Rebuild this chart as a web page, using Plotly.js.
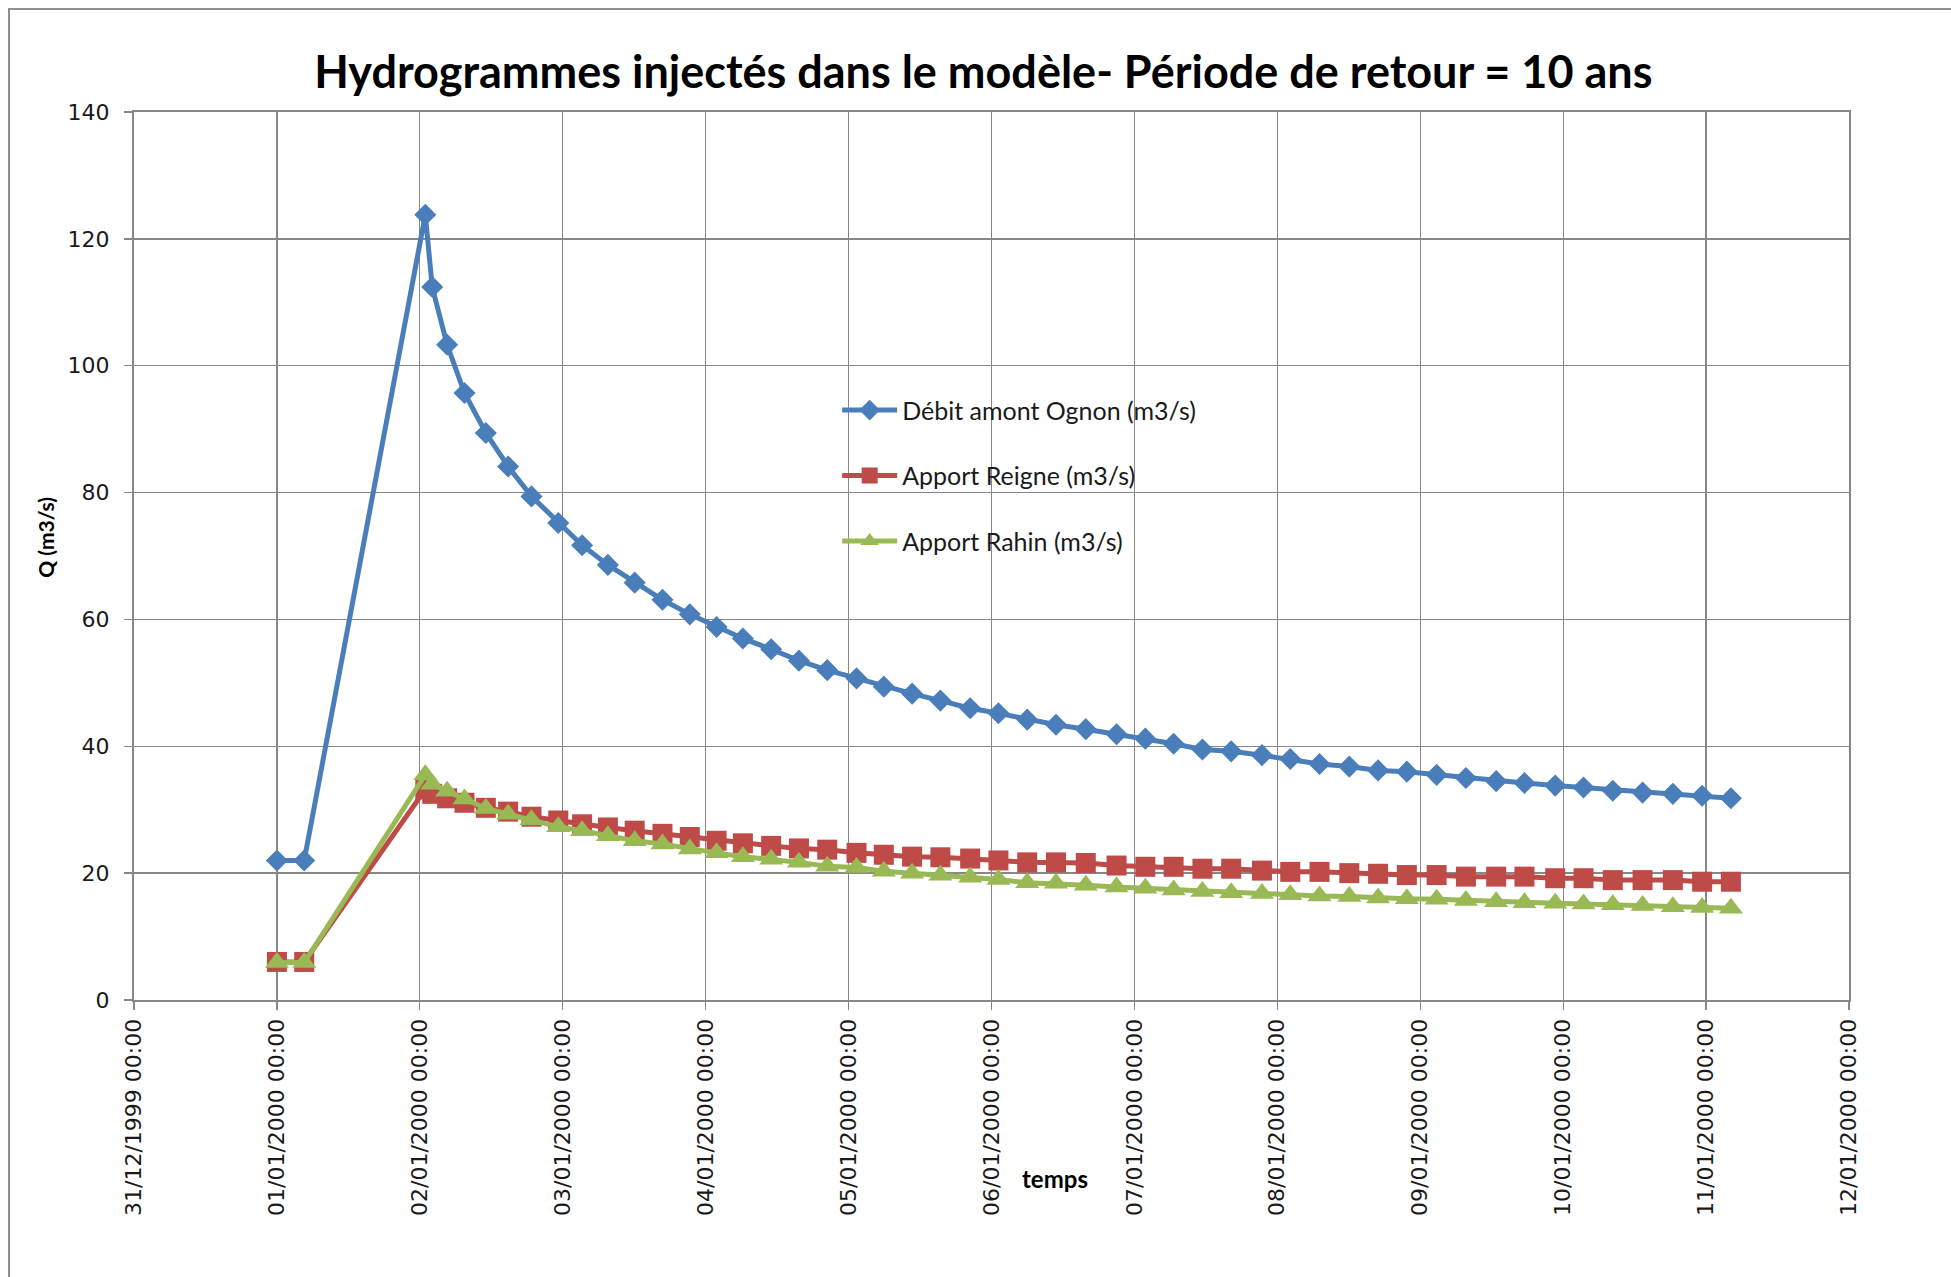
<!DOCTYPE html>
<html>
<head>
<meta charset="utf-8">
<script src="https://cdn.plot.ly/plotly-3.0.1.min.js"></script>
<style>
  html, body { margin: 0; padding: 0; background: #ffffff; }
  #chart { position: absolute; left: 0; top: 0; width: 1951px; height: 1277px; }
  #frame { position: absolute; left: 8px; top: 8px; width: 1960px; height: 1290px;
           border-left: 2px solid #8e8e8e; border-top: 2px solid #8e8e8e; pointer-events: none; }
</style>
</head>
<body>
<div id="chart"></div>
<div id="frame"></div>
<script>
// ---- Data ----
const chartTitle = "Hydrogrammes injectés dans le modèle- Période de retour = 10 ans";
const xAxisTitle = "temps";
const yAxisTitle = "Q (m3/s)";
const seriesNames = ["Débit amont Ognon (m3/s)", "Apport Reigne (m3/s)", "Apport Rahin (m3/s)"];

const times = [
  "2000-01-01 00:00", "2000-01-01 04:35",
  "2000-01-02 00:55", "2000-01-02 02:05", "2000-01-02 04:35", "2000-01-02 07:30",
  "2000-01-02 11:05", "2000-01-02 14:50", "2000-01-02 18:45", "2000-01-02 23:15",
  "2000-01-03 03:15", "2000-01-03 07:35", "2000-01-03 12:05", "2000-01-03 16:45", "2000-01-03 21:20",
  "2000-01-04 01:50", "2000-01-04 06:15", "2000-01-04 11:00", "2000-01-04 15:40", "2000-01-04 20:25",
  "2000-01-05 01:20", "2000-01-05 05:55", "2000-01-05 10:40", "2000-01-05 15:25", "2000-01-05 20:25",
  "2000-01-06 01:10", "2000-01-06 06:00", "2000-01-06 10:50", "2000-01-06 15:50", "2000-01-06 21:00",
  "2000-01-07 01:50", "2000-01-07 06:35", "2000-01-07 11:25", "2000-01-07 16:15", "2000-01-07 21:25",
  "2000-01-08 02:10", "2000-01-08 07:05", "2000-01-08 12:05", "2000-01-08 16:55", "2000-01-08 21:45",
  "2000-01-09 02:45", "2000-01-09 07:40", "2000-01-09 12:45", "2000-01-09 17:30", "2000-01-09 22:40",
  "2000-01-10 03:25", "2000-01-10 08:20", "2000-01-10 13:20", "2000-01-10 18:25", "2000-01-10 23:20",
  "2000-01-11 04:10"
];

const debitOgnon = [
  22.0, 22.0,
  123.8, 112.4, 103.3, 95.7, 89.4, 84.1, 79.4, 75.2,
  71.7, 68.6, 65.8, 63.1, 60.8,
  58.8, 57.0, 55.3, 53.5, 52.0,
  50.7, 49.4, 48.3, 47.2, 46.0,
  45.2, 44.2, 43.4, 42.7, 41.9,
  41.2, 40.4, 39.5, 39.2, 38.6,
  38.0, 37.2, 36.8, 36.2, 36.0,
  35.5, 35.0, 34.5, 34.2, 33.8,
  33.5, 33.0, 32.7, 32.5, 32.2,
  31.8
];

const apportReigne = [
  6.0, 6.0,
  33.2, 32.5, 31.8, 31.1, 30.3, 29.7, 28.9, 28.3,
  27.7, 27.2, 26.7, 26.2, 25.7,
  25.1, 24.7, 24.3, 23.9, 23.7,
  23.2, 22.9, 22.6, 22.5, 22.3,
  22.0, 21.7, 21.7, 21.6, 21.2,
  21.0, 21.0, 20.7, 20.7, 20.4,
  20.2, 20.2, 20.0, 19.9, 19.7,
  19.7, 19.45, 19.45, 19.45, 19.2,
  19.2, 18.9, 18.9, 18.9, 18.65,
  18.65
];

const apportRahin = [
  5.9, 5.9,
  35.5, 34.0, 32.9, 31.7, 30.2, 29.3, 28.4, 27.3,
  26.7, 25.9, 25.1, 24.6, 23.8,
  23.2, 22.6, 22.2, 21.7, 21.1,
  20.9, 20.3, 20.0, 19.65, 19.35,
  19.0, 18.5, 18.4, 18.1, 17.8,
  17.6, 17.35, 17.1, 16.9, 16.8,
  16.6, 16.4, 16.3, 16.1, 15.95,
  15.9, 15.7, 15.5, 15.35, 15.25,
  15.15, 15.0, 14.9, 14.7, 14.6,
  14.45
];

const xRange = ["1999-12-31 00:00", "2000-01-12 00:00"];
const yRange = [0, 140];
const yStep = 20;

// ---- Styles ----
const colors = ["#4a7ebb", "#be4b48", "#98b954"];
const symbols = ["diamond", "square", "triangle-up"];
const markerSizes = [17, 20, 21];
const gridColor = "#878787";
const tickFont = { family: "DejaVu Sans", size: 22, color: "#1a1a1a" };

const seriesValues = [debitOgnon, apportReigne, apportRahin];
const traces = seriesValues.map((vals, i) => ({
  type: "scatter",
  mode: "lines+markers",
  x: times,
  y: vals,
  name: seriesNames[i],
  legendgroup: "g" + i,
  line: { color: colors[i], width: 5 },
  marker: { symbol: symbols[i], size: markerSizes[i], color: colors[i], line: { width: 0 } }
}));

const layout = {
  width: 1951,
  height: 1277,
  paper_bgcolor: "rgba(0,0,0,0)",
  plot_bgcolor: "#ffffff",
  margin: { l: 134, r: 102, t: 112, b: 277 },
  title: {
    text: "<b>" + chartTitle + "</b>",
    font: { family: "Lato", size: 45, color: "#000000" },
    xref: "container", x: 0.504, xanchor: "center",
    yref: "container", y: 0.9436, yanchor: "middle"
  },
  xaxis: {
    type: "date",
    range: xRange,
    tick0: xRange[0],
    dtick: 86400000,
    tickformat: "%d/%m/%Y %H:%M",
    tickangle: -90,
    tickfont: tickFont,
    showgrid: true, gridcolor: gridColor, gridwidth: 1.3,
    showline: true, linecolor: gridColor, linewidth: 2, mirror: true,
    ticks: "outside", ticklen: 8, tickcolor: gridColor, tickwidth: 1.3,
    ticklabelstandoff: 0,
    zeroline: false,
    fixedrange: true
  },
  yaxis: {
    range: yRange,
    tick0: 0,
    dtick: yStep,
    tickfont: tickFont,
    showgrid: true, gridcolor: gridColor, gridwidth: 1.3,
    showline: true, linecolor: gridColor, linewidth: 2, mirror: true,
    ticks: "outside", ticklen: 8, tickcolor: gridColor, tickwidth: 1.3,
    ticklabelstandoff: 10,
    zeroline: false,
    fixedrange: true
  },
  showlegend: true,
  legend: {
    x: 0.41, xanchor: "left",
    y: 0.690, yanchor: "top",
    bgcolor: "rgba(0,0,0,0)",
    borderwidth: 0,
    font: { family: "Lato", size: 25, color: "#1a1a1a" },
    traceorder: "grouped",
    tracegroupgap: 30,
    itemwidth: 55
  },
  annotations: [
    {
      text: "<b>" + xAxisTitle + "</b>",
      xref: "paper", yref: "paper", x: 0.537, y: -0.2006,
      xanchor: "center", yanchor: "middle", showarrow: false,
      font: { family: "Lato", size: 24, color: "#000000" }
    },
    {
      text: "<b>" + yAxisTitle + "</b>",
      xref: "paper", yref: "paper", x: -0.0516, y: 0.521,
      xanchor: "center", yanchor: "middle", showarrow: false, textangle: -90,
      font: { family: "Lato", size: 21, color: "#000000" }
    }
  ]
};

Plotly.newPlot("chart", traces, layout, { displayModeBar: false, staticPlot: true });
</script>
</body>
</html>
